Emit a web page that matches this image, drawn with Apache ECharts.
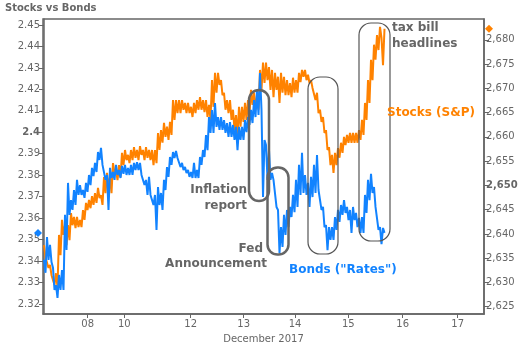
<!DOCTYPE html>
<html><head><meta charset="utf-8">
<script src="https://cdn.jsdelivr.net/npm/echarts@6/dist/echarts.min.js"></script>
<style>html,body{margin:0;padding:0;background:#fff}#c{width:523px;height:344px}</style>
</head><body><div id="c"></div>
<script>
// 10-year yield (left axis): intraday readings at equal steps along the trading-time axis
const bonds = [
2.3405,2.3345, 2.3512,2.3405, 2.3475,2.3395, 2.3368,2.3265, 2.3288,2.3228,
2.3335,2.3265, 2.3358,2.3265, 2.3615,2.3451, 2.3764,2.3615, 2.3684,2.3638,
2.3731,2.3661, 2.3778,2.3708, 2.3754,2.3708, 2.3731,2.3694, 2.3764,2.3722,
2.3801,2.3754, 2.3834,2.3796, 2.3857,2.3815, 2.3908,2.3871, 2.3927,2.3848,
2.3848,2.3778, 2.3801,2.3638, 2.3834,2.3787, 2.3815,2.3778, 2.3848,2.3801,
2.3824,2.3787, 2.3843,2.3806, 2.3848,2.3801, 2.3834,2.3801, 2.3848,2.3801,
2.3857,2.3824, 2.3861,2.3824, 2.3857,2.3801, 2.3801,2.3754, 2.3778,2.3708,
2.3792,2.3708, 2.3717,2.3661, 2.3708,2.3545, 2.3745,2.3661, 2.3717,2.3638,
2.3778,2.3731, 2.3838,2.3792, 2.3885,2.3848, 2.3908,2.3880, 2.3913,2.3880,
2.3885,2.3838, 2.3857,2.3824, 2.3838,2.3810, 2.3824,2.3792, 2.3815,2.3787,
2.3857,2.3787, 2.3824,2.3787, 2.3885,2.3848, 2.3917,2.3885, 2.3987,2.3917,
2.4071,2.3997, 2.4104,2.3997, 2.4136,2.4025, 2.4071,2.4011, 2.4071,2.4011,
2.4057,2.3997, 2.4043,2.3978, 2.4048,2.3978, 2.4034,2.3964, 2.4025,2.3917,
2.4025,2.3964, 2.4025,2.3964, 2.4057,2.4001, 2.4071,2.4034, 2.4104,2.4043,
2.4150,2.4071, 2.4197,2.4081, 2.4276,2.4104, 2.3698,2.3964, 2.3941,2.3778,
2.3917,2.3778, 2.3810,2.3778, 2.3778,2.3652, 2.3638,2.3438, 2.3558,2.3466,
2.3615,2.3521, 2.3638,2.3558, 2.3652,2.3605, 2.3708,2.3628, 2.3778,2.3652,
2.3848,2.3708, 2.3904,2.3717, 2.3801,2.3708, 2.3764,2.3652, 2.3792,2.3698,
2.3848,2.3717, 2.3894,2.3731, 2.3731,2.3638, 2.3652,2.3558, 2.3568,2.3451,
2.3558,2.3498, 2.3558,2.3498, 2.3605,2.3545, 2.3638,2.3582, 2.3661,2.3615,
2.3684,2.3624, 2.3652,2.3591, 2.3638,2.3531, 2.3652,2.3591, 2.3624,2.3558,
2.3601,2.3531, 2.3605,2.3531, 2.3708,2.3624, 2.3778,2.3684, 2.3806,2.3717,
2.3745,2.3652, 2.3652,2.3545, 2.3558,2.3479, 2.3554,2.3531];
// S&P 500 (right axis)
const stocks = [
2637.7,2635.2, 2635.2,2633.0, 2633.6,2631.5, 2631.9,2629.5, 2631.9,2629.0,
2639.8,2635.6, 2642.9,2639.8, 2641.8,2637.7, 2641.8,2638.7, 2644.3,2641.8,
2643.5,2641.2, 2643.5,2641.4, 2642.9,2641.4, 2644.9,2642.9, 2646.4,2644.9,
2647.0,2645.3, 2647.8,2646.0, 2648.4,2646.4, 2649.5,2647.4, 2648.0,2646.0,
2651.7,2648.4, 2652.6,2649.7, 2651.7,2648.4, 2654.6,2652.6, 2653.2,2651.1,
2654.2,2651.7, 2656.7,2654.2, 2657.3,2655.2, 2656.3,2654.6, 2657.3,2655.2,
2657.9,2655.7, 2657.3,2655.2, 2658.1,2656.3, 2657.3,2655.2, 2657.9,2655.7,
2657.3,2655.2, 2657.3,2654.2, 2657.3,2654.6, 2660.8,2657.3, 2661.4,2658.8,
2662.9,2660.0, 2662.1,2659.4, 2663.1,2660.4, 2667.6,2663.5, 2667.6,2664.9,
2667.6,2664.9, 2667.6,2665.6, 2667.0,2664.9, 2667.0,2664.9, 2666.2,2664.1,
2667.0,2664.9, 2667.6,2665.6, 2668.2,2665.6, 2667.6,2665.1, 2667.6,2664.1,
2666.6,2663.5, 2671.7,2666.2, 2673.2,2669.1, 2673.2,2670.7, 2671.7,2668.6,
2669.1,2665.6, 2667.6,2664.9, 2667.6,2663.5, 2665.6,2661.4, 2664.5,2660.0,
2666.2,2662.1, 2666.2,2663.1, 2667.0,2663.5, 2667.6,2664.9, 2669.7,2666.6,
2669.1,2665.6, 2668.6,2665.6, 2673.8,2669.7, 2675.3,2671.1, 2675.3,2671.7,
2674.4,2669.7, 2673.8,2668.2, 2673.2,2669.7, 2672.4,2667.0, 2673.2,2669.1,
2672.4,2668.6, 2671.7,2668.6, 2671.1,2668.2, 2672.2,2669.1, 2671.7,2669.1,
2673.2,2671.3, 2673.8,2672.4, 2673.8,2671.7, 2672.8,2671.1, 2671.7,2670.1,
2670.3,2667.6, 2669.1,2664.9, 2665.6,2663.1, 2664.1,2660.8, 2661.4,2657.3,
2657.9,2654.2, 2656.3,2652.6, 2656.7,2654.2, 2657.7,2655.7, 2658.8,2656.7,
2660.0,2658.3, 2660.4,2658.8, 2660.8,2658.8, 2660.8,2658.8, 2660.8,2658.8,
2661.4,2659.4, 2663.5,2660.4, 2667.0,2663.5, 2671.7,2667.0, 2675.9,2671.7,
2679.0,2675.9, 2681.0,2677.9, 2682.7,2680.4, 2674.8,2682.3];
// x axis: sample-step positions where each day label sits
const xTickPos = [29.13, 53.53, 97.8, 133.13, 167.33, 202.87, 239.13, 275.8];
const xTickLabels = ['08','10','12','13','14','15','16','17'];
const leftTicks = [2.32,2.33,2.34,2.35,2.36,2.37,2.38,2.39,2.40,2.41,2.42,2.43,2.44,2.45];
const rightTicks = [2625,2630,2635,2640,2645,2650,2655,2660,2665,2670,2675,2680];
const leftBold = 2.40, rightBold = 2650;

const FONT = 'DejaVu Sans';
const GRAY = '#666';
const BLUE = '#1283FF';
const ORANGE = '#FF8200';

const chart = echarts.init(document.getElementById('c'), null, {renderer: 'canvas'});
const gridL = 43, gridR = 39, gridT = 19, gridB = 30;
const axisLbl = {color: GRAY, fontFamily: FONT, fontSize: 10};
const option = {
  animation: false,
  backgroundColor: '#fff',
  title: {text: 'Stocks vs Bonds', left: 5, top: 3, padding: 0,
    textStyle: {fontFamily: FONT, fontSize: 10, fontWeight: 'bold', color: GRAY}},
  grid: {left: gridL, right: gridR, top: gridT, bottom: gridB, show: true, borderColor: GRAY, borderWidth: 1.5,
    containLabel: false, outerBoundsMode: 'none'},
  xAxis: {
    type: 'value', min: -0.667, max: 293.33,
    name: 'December 2017', nameLocation: 'middle', nameGap: 20,
    nameTextStyle: {color: GRAY, fontFamily: FONT, fontSize: 10},
    axisLine: {show: true, lineStyle: {color: GRAY, width: 1.5}},
    axisTick: {show: true, customValues: xTickPos, length: 4, lineStyle: {color: GRAY}},
    axisLabel: Object.assign({customValues: xTickPos, margin: 5,
      formatter: v => xTickLabels[xTickPos.indexOf(v)]}, axisLbl),
    splitLine: {show: false}
  },
  yAxis: [{
    type: 'value', position: 'left', min: 2.3153, max: 2.4528,
    axisLine: {show: true, lineStyle: {color: GRAY, width: 1.5}},
    axisTick: {show: true, customValues: leftTicks, length: 5, lineStyle: {color: GRAY}},
    axisLabel: Object.assign({customValues: leftTicks, margin: 3,
      formatter: v => { const s = String(parseFloat(v.toFixed(2))); return Math.abs(v - leftBold) < 1e-6 ? '{b|' + s + '}' : s; },
      rich: {b: {fontWeight: 'bold', color: GRAY, fontFamily: FONT, fontSize: 10}}}, axisLbl),
    splitLine: {show: false}
  }, {
    type: 'value', position: 'right', min: 2623.5, max: 2684.3,
    axisLine: {show: true, lineStyle: {color: GRAY, width: 1.5}},
    axisTick: {show: true, customValues: rightTicks, length: 5, lineStyle: {color: GRAY}},
    axisLabel: Object.assign({customValues: rightTicks, margin: 2,
      formatter: v => { const s = v.toLocaleString('en-US'); return v === rightBold ? '{b|' + s + '}' : s; },
      rich: {b: {fontWeight: 'bold', color: GRAY, fontFamily: FONT, fontSize: 10}}}, axisLbl),
    splitLine: {show: false}
  }],
  series: [{
    name: 'Stocks (S&P)', type: 'line', yAxisIndex: 1, showSymbol: false,
    data: stocks.map((v, i) => [i, v]),
    lineStyle: {color: ORANGE, width: 2}, itemStyle: {color: ORANGE}
  }, {
    name: 'Bonds ("Rates")', type: 'line', yAxisIndex: 0, showSymbol: false,
    data: bonds.map((v, i) => [i, v]),
    lineStyle: {color: BLUE, width: 2}, itemStyle: {color: BLUE}
  }]
};
chart.setOption(option);

// last-value diamonds on the axes, placed through the axis scales
const yB = chart.convertToPixel({yAxisIndex: 0}, bonds[bonds.length - 1]);
const yS = chart.convertToPixel({yAxisIndex: 1}, stocks[stocks.length - 1]);
const W = 523;
function diamond(cx, cy, color) {
  return {type: 'polygon', z: 100, shape: {points: [[cx, cy - 4], [cx + 4, cy], [cx, cy + 4], [cx - 4, cy]]}, style: {fill: color}};
}
function box(x, y, w, h, r, lw, color) {
  return {type: 'rect', z: 90, shape: {x: x, y: y, width: w, height: h, r: r}, style: {fill: 'none', stroke: color, lineWidth: lw}};
}
function txt(t, x, y, align, color) {
  return {type: 'text', z: 95, x: x, y: y, style: {text: t, align: align, verticalAlign: 'middle', fill: color,
    font: 'bold 12px "' + FONT + '"'}};
}
chart.setOption({graphic: [
  diamond(gridL - 5, yB, BLUE),
  diamond(W - gridR + 5, yS, ORANGE),
  box(249, 90, 20, 111, 10, 2.5, '#666'),
  box(267.5, 167.5, 21, 87, 10, 2.5, '#666'),
  box(308, 77, 30, 177, 12, 1.2, '#555'),
  box(359, 23, 31, 218, 12, 1.2, '#555'),
  txt('Inflation', 247, 190, 'right', '#666'),
  txt('report', 247, 206, 'right', '#666'),
  txt('Fed', 263, 249, 'right', '#666'),
  txt('Announcement', 267, 264, 'right', '#666'),
  txt('tax bill', 392, 28, 'left', '#666'),
  txt('headlines', 392, 44, 'left', '#666'),
  txt('Stocks (S&P)', 387, 113, 'left', ORANGE),
  txt('Bonds ("Rates")', 289, 270, 'left', BLUE)
]});
</script>
</body></html>
